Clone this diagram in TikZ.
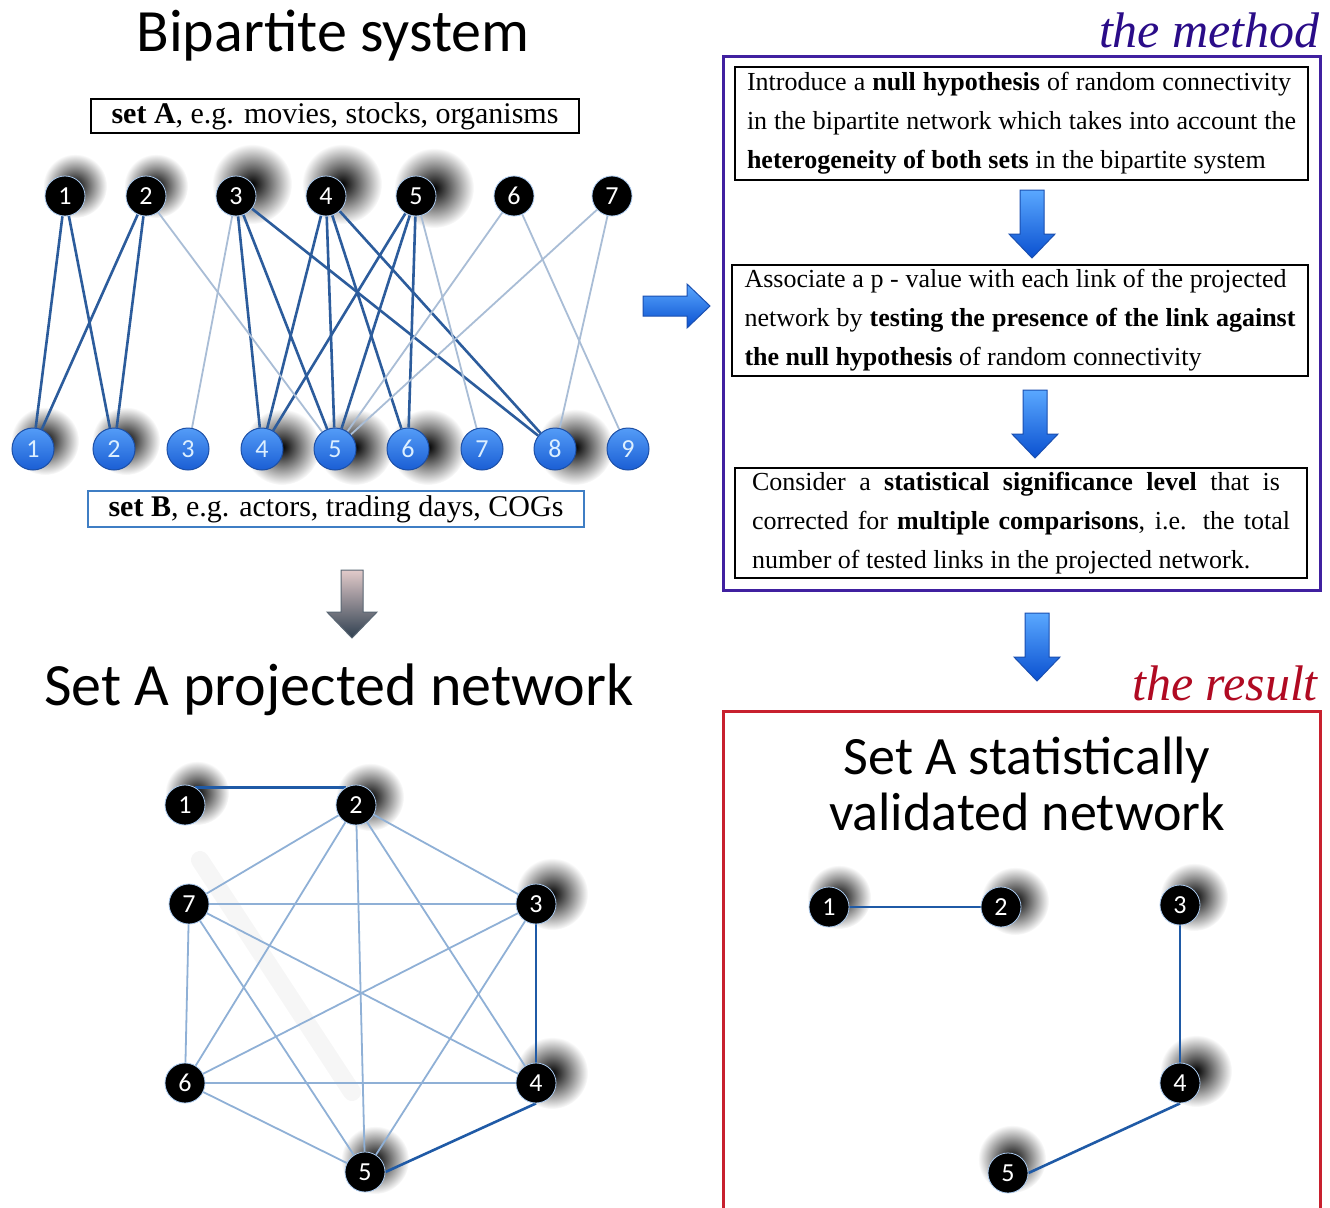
\documentclass[tikz,border=0pt]{standalone}
\usepackage{fontspec}
\setmainfont{Liberation Serif}
\newfontfamily\calibfont{Carlito}
\usetikzlibrary{calc,fadings}
\definecolor{edark}{HTML}{2C5C9C}
\definecolor{elight}{HTML}{A9BDD6}
\definecolor{pdark}{HTML}{1F5AA6}
\definecolor{plight}{HTML}{8FB0D6}
\definecolor{noderim}{HTML}{A9C9EE}
\definecolor{btop}{HTML}{549CF7}
\definecolor{bbot}{HTML}{1A5ED4}
\definecolor{brim}{HTML}{1C4FA6}
\definecolor{btext}{HTML}{DCEFFF}
\definecolor{methodc}{HTML}{4020A0}
\definecolor{methodt}{HTML}{2A0C88}
\definecolor{resultc}{HTML}{C8202E}
\definecolor{resultt}{HTML}{B00A22}
\definecolor{setbc}{HTML}{3F7EC4}
\definecolor{arrtop}{HTML}{5AA8FF}
\definecolor{arrbot}{HTML}{0A50D0}
\definecolor{arrrim}{HTML}{1A4FB0}
\definecolor{gtop}{HTML}{E2CACA}
\definecolor{gbot}{HTML}{2F4050}
\newcommand\numfont{\calibfont\fontsize{26}{26}\selectfont}
\newcommand\titlefont{\calibfont\fontsize{60}{66}\selectfont}
\newcommand\subtitlefont{\calibfont\fontsize{54}{60}\selectfont}
\newcommand\boxfont{\fontsize{26}{39}\selectfont}
\newcommand\jl[2]{\makebox[#1pt][s]{#2}}
\newcommand\shd[4]{\fill[black,path fading=fuzzy] ($(#1)+(#2,#3)$) circle (#4pt);}
\newcommand\downarr[3]{\path[#3] (#1,#2) ++(-12,-68) -- ++(24,0) -- ++(0,44) -- ++(11,0) -- (#1,#2) -- ++(-23,-24) -- ++(11,0) -- cycle;}
\tikzfading[name=fuzzy, inner color=transparent!0, outer color=transparent!100]
\pgfdeclarelayer{shd}\pgfdeclarelayer{bg}\pgfsetlayers{shd,bg,main}
\begin{document}
\begin{tikzpicture}[x=1pt,y=-1pt,
  anode/.style={circle, fill=black, draw=noderim, line width=0.8, minimum size=40, inner sep=0, text=white, font=\numfont},
  bnode/.style={circle, top color=btop, bottom color=bbot, draw=brim, line width=1, minimum size=42, inner sep=0, text=btext, font=\numfont},
  bdark/.style={draw=edark, line width=2.6},
  blight/.style={draw=elight, line width=1.8},
  pd/.style={draw=pdark, line width=2.6},
  pl/.style={draw=plight, line width=1.8},
  textbox/.style={draw=black, line width=2.5, inner sep=0, align=left, font=\boxfont},
  bluearrow/.style={top color=arrtop, bottom color=arrbot, draw=arrrim, line width=1},
  title/.style={font=\titlefont, anchor=base, inner sep=0}]
\useasboundingbox (0,0) rectangle (1330,1207);

% ---------- titles ----------
\node[title] (t1) at (333,52) {Bipartite system};
\node[title] (t2) at (339,705) {Set A projected network};
\node[title, font=\subtitlefont] (t3) at (1027,774) {Set A statistically};
\node[title, font=\subtitlefont] (t4) at (1027,830) {validated network};
\node[font=\fontsize{50}{50}\selectfont\itshape, text=methodt, anchor=base east, inner sep=0] (tm) at (1320,48) {the method};
\node[font=\fontsize{50}{50}\selectfont\itshape, text=resultt, anchor=base east, inner sep=0] (tr) at (1318,700) {the result};

% ---------- set boxes ----------
\node[draw=black, line width=2.5, minimum width=488, minimum height=34, inner sep=0, font=\fontsize{30}{30}\selectfont] (seta) at (335,116) {\textbf{set A}, e.g. movies, stocks, organisms};
\node[draw=setbc, line width=2.5, minimum width=496, minimum height=36, inner sep=0, font=\fontsize{30}{30}\selectfont] (setb) at (336,509) {\textbf{set B}, e.g. actors, trading days, COGs};

% ---------- bipartite nodes ----------
\foreach \i/\x in {1/65,2/146,3/236,4/326,5/416,6/514,7/612}
  \node[anode] (a\i) at (\x,196) {\i};
\foreach \i/\x in {1/33,2/114,3/188,4/262,5/335,6/408,7/482,8/555,9/628}
  \node[bnode] (b\i) at (\x,449) {\i};

% ---------- projected nodes ----------
\node[anode] (p1) at (185,805) {1};
\node[anode] (p2) at (356,805) {2};
\node[anode] (p7) at (189,904) {7};
\node[anode] (p3) at (536,904) {3};
\node[anode] (p6) at (185,1083) {6};
\node[anode] (p4) at (536,1083) {4};
\node[anode] (p5) at (365,1172) {5};

% ---------- validated nodes ----------
\node[anode] (v1) at (829,907) {1};
\node[anode] (v2) at (1001,907) {2};
\node[anode] (v3) at (1180,905) {3};
\node[anode] (v4) at (1180,1083) {4};
\node[anode] (v5) at (1008,1173) {5};

% ---------- method ----------
\node[draw=methodc, line width=3, minimum width=597, minimum height=533, inner sep=0] (method) at (1021.5,323.5) {};
\node[textbox, minimum width=573, minimum height=113] (m1) at (1021.5,123.5)
  {\jl{544}{Introduce a \textbf{null hypothesis} of random connectivity}\\
   \jl{549}{in the bipartite network which takes into account the}\\
   {\textbf{heterogeneity of both sets} in the bipartite system}};
\node[textbox, minimum width=576, minimum height=111] (m2) at (1020,320.5)
  {\jl{542}{Associate a p - value with each link of the projected}\\
   \jl{551}{network by \textbf{testing the presence of the link against}}\\
   {\textbf{the null hypothesis} of random connectivity}};
\node[textbox, minimum width=572, minimum height=110] (m3) at (1021,523)
  {\jl{528}{Consider a \textbf{statistical significance level} that is}\\
   \jl{538}{corrected for \textbf{multiple comparisons}, i.e. the total}\\
   {number of tested links in the projected network.}};

% ---------- result frame ----------
\coordinate (rbl) at (723,1215);
\coordinate (rtr) at (1320,711);
\draw[draw=resultc, line width=3] (rbl) |- (rtr) -- (rtr |- rbl);

% ---------- arrows ----------
\path[bluearrow] (643,296) -- (687,296) -- (687,284) -- (710,306) -- (687,328) -- (687,316) -- (643,316) -- cycle;
\downarr{1032}{258}{bluearrow}
\downarr{1035}{458}{bluearrow}
\downarr{1037}{681}{bluearrow}
\path[top color=gtop, bottom color=gbot, draw=gbot!80, line width=1]
  (341,570) -- (363,570) -- (363,612) -- (377,612) -- (352,638) -- (327,612) -- (341,612) -- cycle;

% ---------- edges ----------
\begin{pgfonlayer}{bg}
  \foreach \i/\j in {1/1,1/2,2/1,2/2,3/4,3/5,3/8,4/4,4/5,4/6,4/8,5/4,5/5,5/6}
    \draw[bdark] (a\i) -- (b\j);
  \foreach \i/\j in {2/5,3/3,5/7,6/5,6/9,7/5,7/8}
    \draw[blight] (a\i) -- (b\j);
  \foreach \i/\j in {2/7,2/6,2/5,2/4,2/3,7/3,7/4,7/5,7/6,3/6,3/5,6/4,6/5}
    \draw[pl] (p\i) -- (p\j);
  \draw[pd] (p1.60) -- (p2.120);
  \draw[pd] (p3) -- (p4);
  \draw[pd] (p4.south) -- (p5.east);
  \draw[pd] (v1) -- (v2);
  \draw[pd] (v3) -- (v4);
  \draw[pd] (v4.south) -- (v5.east);
\end{pgfonlayer}

% ---------- shadows ----------
\begin{pgfonlayer}{shd}
  \fill[white] (0,0) rectangle (1330,1207);
  \draw[line width=18, black, opacity=0.035, line cap=round] (200,860) -- (352,1092);
  \shd{a1}{10}{-10}{32}
  \shd{a2}{10}{-10}{32}
  \shd{a3}{16}{-12}{40}
  \shd{a4}{16}{-12}{40}
  \shd{a5}{18}{-8}{40}
  \shd{b1}{12}{-8}{34}
  \shd{b2}{12}{-8}{34}
  \shd{b4}{20}{-2}{38}
  \shd{b5}{20}{-2}{38}
  \shd{b6}{20}{-2}{38}
  \shd{b8}{20}{-2}{38}
  \shd{p1}{12}{-12}{32}
  \shd{p2}{14}{-8}{34}
  \shd{p3}{16}{-10}{36}
  \shd{p4}{16}{-10}{36}
  \shd{p5}{10}{-12}{34}
  \shd{v1}{10}{-10}{32}
  \shd{v2}{14}{-6}{34}
  \shd{v3}{14}{-8}{34}
  \shd{v4}{16}{-12}{36}
  \shd{v5}{4}{-14}{34}
\end{pgfonlayer}
\end{tikzpicture}
\end{document}
